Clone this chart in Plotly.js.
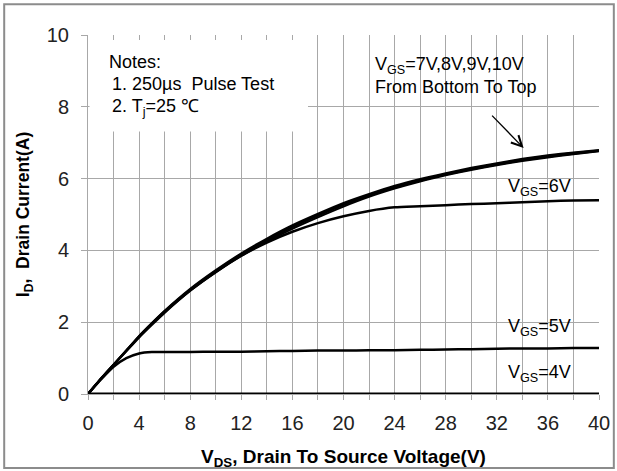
<!DOCTYPE html>
<html>
<head>
<meta charset="utf-8">
<script src="https://cdn.plot.ly/plotly-3.0.1.min.js"></script>
<style>html,body{margin:0;padding:0;background:#fff;}#chart{width:617px;height:471px;}</style>
</head>
<body>
<div id="chart"></div>
<script>
// Drain-to-source voltage (V)
const vds = [0, 1, 2, 3, 4, 5, 6, 8, 10, 12, 14, 16, 18, 20, 22, 24, 26, 28, 30, 32, 34, 36, 38, 40];
// Drain current (A) for each gate voltage
const id10 = [0, 0.42, 0.82, 1.22, 1.62, 1.98, 2.32, 2.93, 3.45, 3.92, 4.33, 4.70, 5.02, 5.32, 5.57, 5.80, 5.99, 6.15, 6.30, 6.43, 6.55, 6.65, 6.73, 6.80];
const id9  = [0, 0.42, 0.82, 1.21, 1.61, 1.97, 2.31, 2.91, 3.43, 3.89, 4.30, 4.67, 4.99, 5.29, 5.54, 5.77, 5.96, 6.13, 6.28, 6.41, 6.53, 6.63, 6.71, 6.78];
const id8  = [0, 0.42, 0.81, 1.20, 1.60, 1.96, 2.30, 2.90, 3.41, 3.87, 4.27, 4.64, 4.96, 5.26, 5.52, 5.75, 5.94, 6.11, 6.26, 6.39, 6.51, 6.61, 6.69, 6.77];
const id7  = [0, 0.42, 0.81, 1.20, 1.59, 1.95, 2.28, 2.88, 3.39, 3.85, 4.24, 4.60, 4.92, 5.22, 5.49, 5.72, 5.92, 6.09, 6.24, 6.37, 6.49, 6.59, 6.68, 6.76];
const id6  = [0, 0.42, 0.81, 1.20, 1.58, 1.93, 2.27, 2.88, 3.40, 3.85, 4.22, 4.52, 4.76, 4.95, 5.10, 5.20, 5.23, 5.26, 5.29, 5.31, 5.34, 5.37, 5.39, 5.40];
const id5  = [0, 0.40, 0.76, 1.00, 1.13, 1.17, 1.17, 1.17, 1.18, 1.18, 1.19, 1.20, 1.21, 1.21, 1.22, 1.22, 1.23, 1.24, 1.25, 1.26, 1.27, 1.27, 1.28, 1.28];
const id4  = [0, 0, 0, 0, 0, 0, 0, 0, 0, 0, 0, 0, 0, 0, 0, 0, 0, 0, 0, 0, 0, 0, 0, 0];

const xTicks = [0, 4, 8, 12, 16, 20, 24, 28, 32, 36, 40];
const yTicks = [0, 2, 4, 6, 8, 10];

const series = [
  {name: 'VGS=4V', y: id4, w: 3},
  {name: 'VGS=5V', y: id5, w: 2.5},
  {name: 'VGS=6V', y: id6, w: 2.5},
  {name: 'VGS=7V', y: id7, w: 2},
  {name: 'VGS=8V', y: id8, w: 2},
  {name: 'VGS=9V', y: id9, w: 2},
  {name: 'VGS=10V', y: id10, w: 2}
];

const traces = series.map(s => ({
  x: vds, y: s.y, name: s.name, type: 'scatter', mode: 'lines',
  line: {color: '#000', width: s.w, shape: 'spline', smoothing: 0.6},
  showlegend: false, hoverinfo: 'skip', cliponaxis: false
}));

const F = 'Liberation Sans, Arial, sans-serif';
const txt = (x, y, text) => ({x, y, xref: 'x', yref: 'y', text, showarrow: false,
  xanchor: 'left', yanchor: 'middle', font: {family: F, size: 18, color: '#000'}});

const layout = {
  width: 617, height: 471,
  margin: {l: 88, r: 18, t: 35, b: 77},
  paper_bgcolor: '#fff', plot_bgcolor: '#fff',
  xaxis: {
    range: [0, 40], tickvals: xTicks, ticktext: xTicks.map(String),
    showgrid: true, gridcolor: '#a8a8a8', gridwidth: 1,
    minor: {dtick: 2, showgrid: true, gridcolor: '#a8a8a8', gridwidth: 1, ticks: 'outside', ticklen: 5, tickcolor: '#a8a8a8'},
    ticks: 'outside', ticklen: 5, tickcolor: '#a8a8a8',
    showline: true, linecolor: '#a8a8a8', zeroline: false,
    ticklabelstandoff: 6,
    tickfont: {family: F, size: 20, color: '#222'},
    title: {text: '<b>V<sub>DS</sub>, Drain To Source Voltage(V)</b>', font: {family: F, size: 19, color: '#000'}, standoff: 16}
  },
  yaxis: {
    range: [0, 10], tickvals: yTicks, ticktext: yTicks.map(String),
    showgrid: true, gridcolor: '#a8a8a8', gridwidth: 1,
    ticks: 'outside', ticklen: 6, tickcolor: '#a8a8a8',
    showline: true, linecolor: '#a8a8a8', zeroline: false,
    ticklabelstandoff: 8,
    tickfont: {family: F, size: 20, color: '#222'},
    title: {text: '<b>I<sub>D</sub>,  Drain Current(A)</b>', font: {family: F, size: 17.5, color: '#000'}, standoff: 12}
  },
  shapes: [
    {type: 'rect', xref: 'paper', yref: 'paper', x0: 0.003, x1: 0.4305, y0: 0.731, y1: 0.986,
     fillcolor: '#fff', line: {width: 0}, layer: 'above'},
    {type: 'rect', xref: 'paper', yref: 'paper', x0: -0.164, x1: 1.029, y0: -0.206, y1: 1.086,
     fillcolor: 'rgba(0,0,0,0)', line: {color: '#8c8c8c', width: 2}, layer: 'above'}
  ],
  annotations: [
    txt(1.45, 9.25, 'Notes:'),
    txt(1.75, 8.64, '1. 250µs  Pulse Test'),
    txt(1.75, 7.97, '2. T<sub>j</sub>=25 ℃'),
    txt(22.3, 9.16, 'V<sub>GS</sub>=7V,8V,9V,10V'),
    txt(22.3, 8.55, 'From Bottom To Top'),
    txt(32.7, 5.74, 'V<sub>GS</sub>=6V'),
    txt(32.7, 1.84, 'V<sub>GS</sub>=5V'),
    txt(32.7, 0.56, 'V<sub>GS</sub>=4V'),
    {x: 34.1, y: 6.85, xref: 'x', yref: 'y', ax: -33, ay: -34, text: '', showarrow: true,
     arrowhead: 5, arrowsize: 1.6, arrowwidth: 1.3, arrowcolor: '#000'}
  ]
};

Plotly.newPlot('chart', traces, layout, {staticPlot: true, displayModeBar: false});
</script>
</body>
</html>
